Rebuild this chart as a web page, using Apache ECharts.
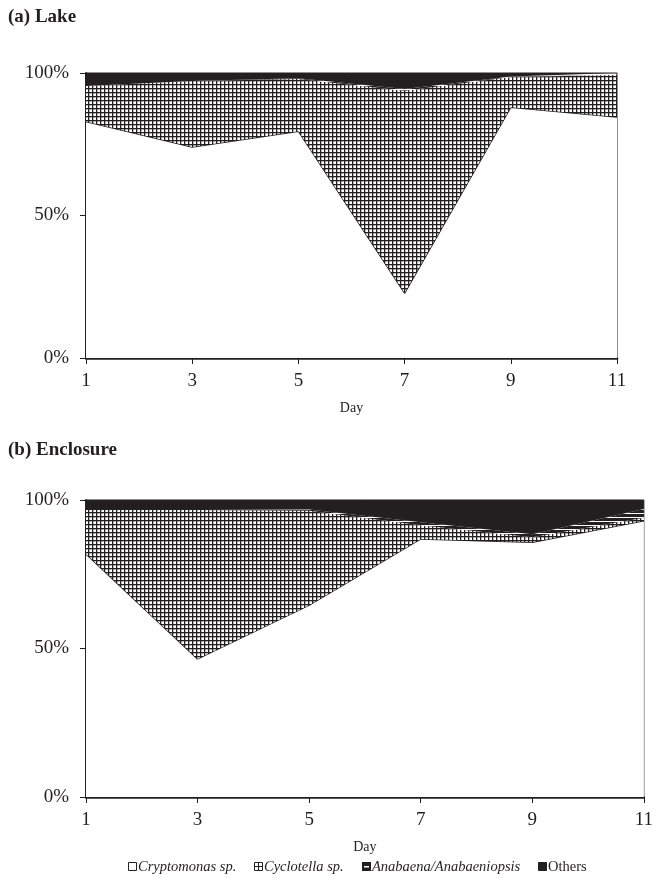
<!DOCTYPE html>
<html>
<head>
<meta charset="utf-8">
<script src="https://cdn.jsdelivr.net/npm/echarts@6/dist/echarts.min.js"></script>
<style>
html,body{margin:0;padding:0;background:#fff;}
#chart{width:656px;height:879px;}
</style>
</head>
<body>
<div id="chart"></div>
<script>
// ---- data ----
const days = ['1', '3', '5', '7', '9', '11'];
const yTicks = [0, 50, 100];
const seriesNames = ['Cryptomonas sp.', 'Cyclotella sp.', 'Anabaena/Anabaeniopsis', 'Others'];

// (a) Lake, percent composition
const lakeCryptomonas = [83.0, 74.0, 79.6, 22.8, 88.0, 84.6];
const lakeCyclotella  = [12.4, 23.2, 18.3, 71.0, 10.6, 14.7];
const lakeAnabaena    = [0.0, 0.0, 0.3, 0.6, 0.2, 0.0];
const lakeOthers      = [4.6, 2.8, 1.8, 5.6, 1.2, 0.7];

// (b) Enclosure, percent composition
const encCryptomonas = [81.8, 46.5, 64.6, 86.9, 85.8, 93.0];
const encCyclotella  = [14.8, 50.1, 31.8, 4.6, 1.7, 1.0];
const encAnabaena    = [0.0, 0.0, 0.4, 1.0, 1.0, 3.0];
const encOthers      = [3.4, 3.4, 3.2, 7.5, 11.5, 3.0];

const titles = ['(a) Lake', '(b) Enclosure'];
const xName = 'Day';

// ---- patterns ----
const INK = '#231f20';
function makeGridPattern() {
  const c = document.createElement('canvas');
  c.width = 4; c.height = 4;
  const g = c.getContext('2d');
  g.fillStyle = '#fff'; g.fillRect(0, 0, 4, 4);
  g.fillStyle = INK;
  g.fillRect(0, 0, 4, 1.3);
  g.fillRect(0, 0, 1.3, 4);
  return c;
}
function makeStripePattern() {
  const c = document.createElement('canvas');
  c.width = 4; c.height = 4;
  const g = c.getContext('2d');
  g.fillStyle = INK; g.fillRect(0, 0, 4, 4);
  g.fillStyle = '#fff';
  g.fillRect(0, 1, 4, 1);
  return c;
}
const gridPat = { image: makeGridPattern(), repeat: 'repeat' };
const stripePat = { image: makeStripePattern(), repeat: 'repeat' };
const fills = ['#ffffff', gridPat, stripePat, INK];

const chart = echarts.init(document.getElementById('chart'), null, { renderer: 'canvas' });

const serif = 'Liberation Serif';
const grids = [
  { left: 86, right: 39, top: 73, height: 285 },
  { left: 86, right: 9, top: 500, height: 297 }
];

function xAxisFor(i) {
  return {
    gridIndex: i, type: 'category', data: days, boundaryGap: false,
    name: xName, nameLocation: 'middle', nameGap: 43,
    nameTextStyle: { fontFamily: serif, fontSize: 14, color: INK },
    axisLine: { show: true, lineStyle: { color: INK, width: 2.5 } },
    axisTick: { show: true, length: 6, lineStyle: { color: INK, width: 1 } },
    axisLabel: { fontFamily: serif, fontSize: 19, color: INK, margin: 14 },
    splitLine: { show: false }
  };
}
function yAxisFor(i) {
  return {
    gridIndex: i, type: 'value', min: yTicks[0], max: yTicks[2], interval: yTicks[1] - yTicks[0],
    axisLine: { show: true, lineStyle: { color: INK, width: 2 } },
    axisTick: { show: true, length: 6, lineStyle: { color: INK, width: 1 } },
    axisLabel: { fontFamily: serif, fontSize: 19, color: INK, margin: 17, formatter: '{value}%' },
    splitLine: { show: false }
  };
}

function seriesFor(i, arrays) {
  return arrays.map((arr, k) => ({
    name: seriesNames[k],
    type: 'line',
    xAxisIndex: i, yAxisIndex: i,
    stack: 'g' + i,
    data: arr,
    symbol: 'none',
    smooth: false,
    lineStyle: k === 0 ? { color: INK, width: 1.5 } : { width: 0, opacity: 0 },
    areaStyle: { color: fills[k], opacity: 1 },
    z: 2 + k,
    silent: true,
    animation: false
  }));
}

// legend as graphic, laid out from measured text widths
const legendFontSize = 14.5;
const measure = document.createElement('canvas').getContext('2d');
const legendItalic = [true, true, true, false];
const widths = seriesNames.map((n, k) => {
  measure.font = (legendItalic[k] ? 'italic ' : '') + legendFontSize + 'px "Liberation Serif"';
  return 11 + measure.measureText(n).width;
});
const gap = 17;
const total = widths.reduce((a, b) => a + b, 0) + gap * 3;
let cx = 358 - total / 2;
const legendY = 867;
const graphics = [];
titles.forEach((t, i) => {
  graphics.push({
    type: 'text', left: 8, top: i === 0 ? 8 : 441,
    style: { text: t, font: 'bold 19px "Liberation Serif"', fill: INK }
  });
});
seriesNames.forEach((name, k) => {
  const x = Math.round(cx);
  if (k === 2) {
    graphics.push({ type: 'rect', shape: { x: x, y: legendY - 5, width: 9, height: 9 }, style: { fill: INK } });
    graphics.push({ type: 'rect', shape: { x: x + 2, y: legendY - 1, width: 5, height: 1.5 }, style: { fill: '#fff' } });
  } else {
    graphics.push({
      type: 'rect', shape: { x: x + 0.5, y: legendY - 4.5, width: 8, height: 8 },
      style: { fill: k === 3 ? INK : '#fff', stroke: INK, lineWidth: 1 }
    });
  }
  if (k === 1) {
    graphics.push({ type: 'line', shape: { x1: x + 4.5, y1: legendY - 4.5, x2: x + 4.5, y2: legendY + 3.5 }, style: { stroke: INK, lineWidth: 1 } });
    graphics.push({ type: 'line', shape: { x1: x + 0.5, y1: legendY - 0.5, x2: x + 8.5, y2: legendY - 0.5 }, style: { stroke: INK, lineWidth: 1 } });
  }
  graphics.push({
    type: 'text', x: x + 10, y: legendY,
    style: { text: name, font: (legendItalic[k] ? 'italic ' : '') + legendFontSize + 'px "Liberation Serif"', fill: INK, verticalAlign: 'middle', textVerticalAlign: 'middle' }
  });
  cx += widths[k] + gap;
});

chart.setOption({
  animation: false,
  backgroundColor: '#fff',
  grid: grids.map(g => Object.assign({ show: true, borderColor: INK, borderWidth: 1, backgroundColor: 'transparent' }, g)),
  xAxis: [xAxisFor(0), xAxisFor(1)],
  yAxis: [yAxisFor(0), yAxisFor(1)],
  series: [
    ...seriesFor(0, [lakeCryptomonas, lakeCyclotella, lakeAnabaena, lakeOthers]),
    ...seriesFor(1, [encCryptomonas, encCyclotella, encAnabaena, encOthers])
  ],
  graphic: graphics
});
</script>
</body>
</html>
